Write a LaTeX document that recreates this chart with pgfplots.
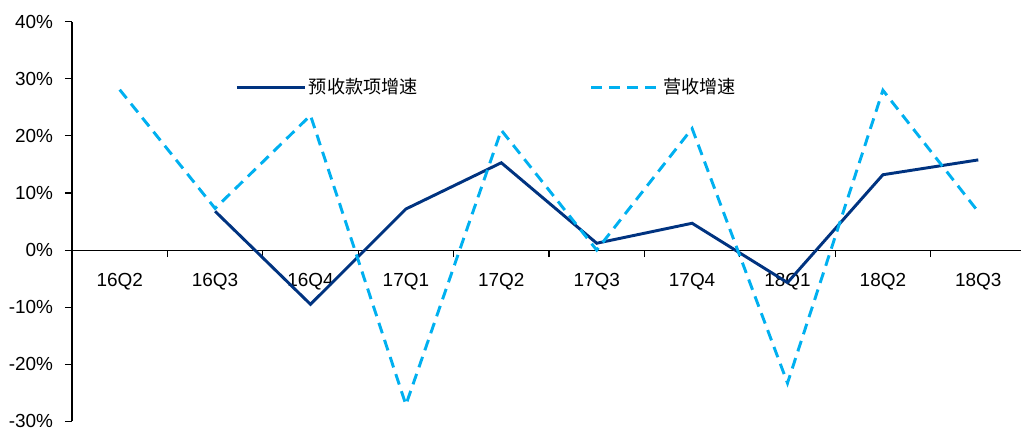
\documentclass[border=0pt]{standalone}
\usepackage{pgfplots}
\pgfplotsset{compat=1.18}
\usepackage{fontspec}
\setmainfont{Liberation Sans}
\newfontfamily\cjk{Noto Sans CJK SC}

\definecolor{navy}{RGB}{0,51,128}
\definecolor{skyc}{RGB}{0,176,240}

\begin{document}
\begin{tikzpicture}
\useasboundingbox (-54pt,-6.5pt) rectangle (711.75pt,316pt);
\begin{axis}[
  at={(0,0)}, anchor=south west,
  scale only axis,
  width=715.5pt, height=299.7pt,
  xmin=-0.5, xmax=9.5,
  ymin=-0.3, ymax=0.4,
  axis x line*=middle,
  axis y line*=left,
  axis line style={black, line width=0.8pt, -},
  tick align=outside,
  major tick length=5.25pt,
  minor tick length=5.25pt,
  tick style={black, line width=0.8pt},
  xtick={0,...,9},
  xticklabels={16Q2,16Q3,16Q4,17Q1,17Q2,17Q3,17Q4,18Q1,18Q2,18Q3},
  major x tick style={draw=none},
  minor xtick={-0.5,0.5,1.5,2.5,3.5,4.5,5.5,6.5,7.5,8.5},
  ytick={-0.3,-0.2,-0.1,0,0.1,0.2,0.3,0.4},
  yticklabels={-30\%,-20\%,-10\%,0\%,10\%,20\%,30\%,40\%},
  tick label style={font=\fontsize{14.2pt}{17pt}\selectfont},
  xticklabel style={yshift=-8.5pt},
  yticklabel style={xshift=-5.5pt},
  legend columns=2,
  legend style={at={(0.1709,0.8366)}, anchor=west, draw=none, fill=none,
    inner sep=0pt, font=\cjk\fontsize{13.6pt}{16pt}\selectfont,
    /tikz/every even column/.append style={column sep=127pt}},
  legend image code/.code={\draw[#1] (0pt,0pt) -- (51pt,0pt);},
  clip=false,
]
\addplot[navy, line width=2.2pt] coordinates {
  (1,0.068) (2,-0.095) (3,0.072) (4,0.153) (5,0.012)
  (6,0.047) (7,-0.057) (8,0.132) (9,0.158)
};
\addlegendentry{预收款项增速}
\addplot[skyc, line width=2.2pt, dash pattern=on 8.25pt off 5.25pt] coordinates {
  (0,0.281) (1,0.073) (2,0.236) (3,-0.271) (4,0.210) (5,0.000)
  (6,0.213) (7,-0.233) (8,0.280) (9,0.067)
};
\addlegendentry{营收增速}
\end{axis}
\end{tikzpicture}
\end{document}
